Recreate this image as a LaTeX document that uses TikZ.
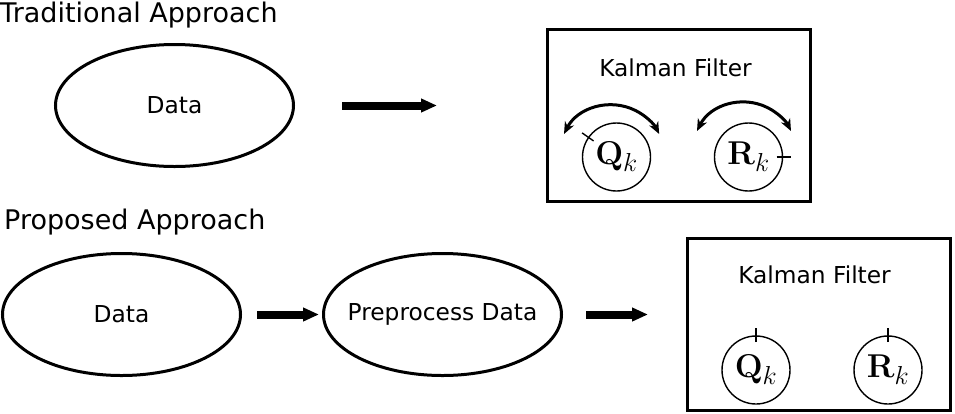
\RequirePackage{fix-cm}
\documentclass[tikz,border=0pt]{standalone}
\usepackage[no-math]{fontspec}
\setmainfont{DejaVu Sans}
\usepackage{tikz}
\usetikzlibrary{arrows.meta,shapes.geometric}
\DeclareMathSizes{33}{33}{26}{20}
\def\headfont{\fontsize{27}{32}\selectfont}
\def\bodyfont{\fontsize{23.3}{28}\selectfont}
\def\symfont{\fontsize{33}{38}\selectfont}

\begin{document}
\begin{tikzpicture}[x=1pt,y=1pt,
  heading/.style={anchor=base west,inner sep=0pt,font=\headfont},
  blob/.style={ellipse,draw,line width=3pt,minimum width=238pt,minimum height=122pt,inner sep=0pt,
    label={[font=\bodyfont]center:#1}},
  kfbox/.style={rectangle,draw,line width=3pt,minimum width=263pt,minimum height=172pt,inner sep=0pt},
  kflabel/.style={inner sep=0pt,font=\bodyfont},
  knob/.style={circle,draw,line width=1.4pt,minimum size=68pt,inner sep=0pt,font=\symfont},
  flow/.style={line width=8pt,-{Triangle[length=16pt,width=13pt]}},
  turn/.style={line width=3pt,{Stealth[length=12pt,width=10pt]}-{Stealth[length=12pt,width=10pt]}}]
  \useasboundingbox (0,0) rectangle (955,-413);
  % traditional
  \node[heading] (trad) at (0,-22) {Traditional Approach};
  \node[blob=Data] (dataa) at (174.5,-105.5) {};
  \node[kfbox] (kfa) at (679,-115.5) {};
  \node[kflabel] (kfalbl) at (675.5,-67.5) {Kalman Filter};
  \draw[flow,shorten <=47pt,shorten >=109pt] (dataa.east) -- (dataa.east -| kfa.west);
  % proposed
  \node[heading] (prop) at (4,-229) {Proposed Approach};
  \node[blob=Data] (datab) at (121.5,-314.5) {};
  \node[blob=Preprocess Data] (prep) at (442.5,-314.5) {};
  \node[kfbox] (kfb) at (819,-324.5) {};
  \node[kflabel] (kfblbl) at (814.5,-275) {Kalman Filter};
  \draw[flow,shorten <=15pt,shorten >=3pt] (datab.east) -- (prep.west);
  \draw[flow,shorten <=23pt,shorten >=38pt] (prep.east) -- (prep.east -| kfb.west);
  % knobs: name/x/y/symbol/tick angle
  \foreach \nm/\x/\y/\sym/\ang in {qa/616.5/-157/Q/145, ra/748.5/-157/R/0, qb/756/-370/Q/90, rb/888/-370/R/90} {
    \node[knob] (\nm) at (\x,\y) {$\mathbf{\sym}_k$};
    \draw[line width=1.4pt] ([shift={(\ang:28)}]\nm.center) -- ([shift={(\ang:42)}]\nm.center);
  }
  % tuning arcs
  \draw[turn] (564,-134) arc[start angle=153,end angle=27,radius=53.4];
  \draw[turn] (697,-131) arc[start angle=153.3,end angle=26.7,radius=52.6];
\end{tikzpicture}
\end{document}
